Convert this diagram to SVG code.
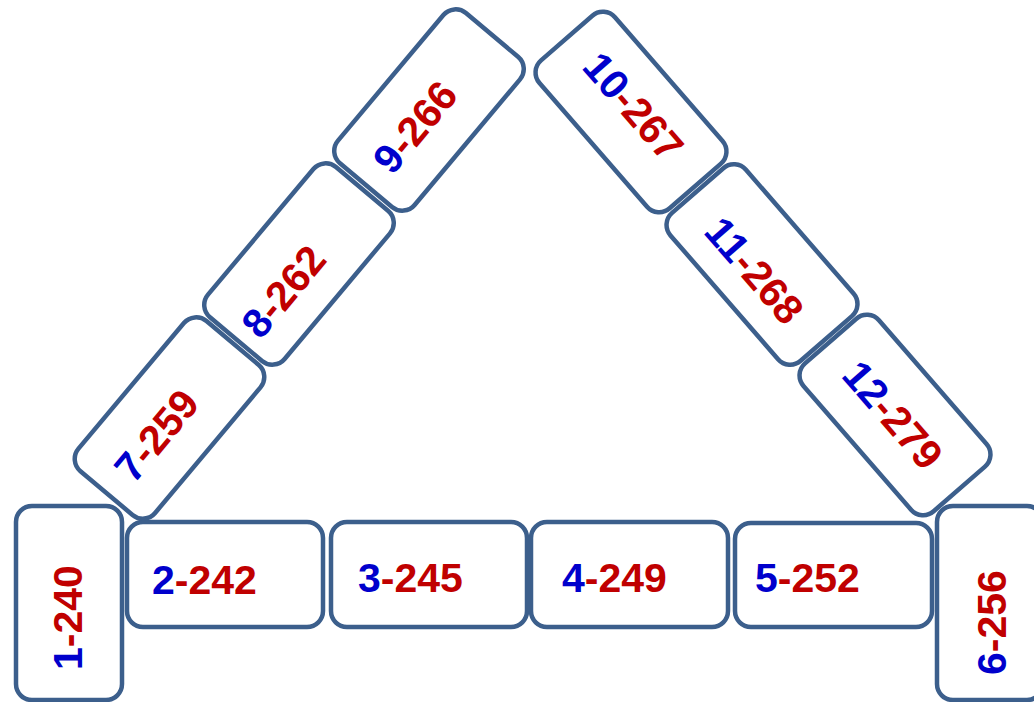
<svg xmlns="http://www.w3.org/2000/svg" width="1034" height="702" viewBox="0 0 1034 702">
<style>
.box{fill:#fff;stroke:#3c5f8c;stroke-width:4.5}
.t{font-family:"Liberation Sans",Arial,sans-serif;font-weight:bold;font-size:41px;fill:#c00000}
.b{fill:#0000cc}
</style>
<rect width="1034" height="702" fill="#fff"/>
<g id="node1"><rect class="box" x="16" y="506" width="106" height="194" rx="16"/><text class="t" transform="translate(82,670) rotate(-90)"><tspan class="b">1</tspan>-240</text></g>
<g id="node2"><rect class="box" x="127" y="522" width="196" height="105" rx="16"/><text class="t" x="152" y="594"><tspan class="b">2</tspan>-242</text></g>
<g id="node3"><rect class="box" x="331" y="522" width="196" height="105" rx="16"/><text class="t" x="358" y="592"><tspan class="b">3</tspan>-245</text></g>
<g id="node4"><rect class="box" x="531" y="522" width="197" height="105" rx="16"/><text class="t" x="562" y="592"><tspan class="b">4</tspan>-249</text></g>
<g id="node5"><rect class="box" x="735" y="523" width="197" height="104" rx="16"/><text class="t" x="755" y="592"><tspan class="b">5</tspan>-252</text></g>
<g id="node6"><rect class="box" x="937" y="506" width="106" height="194" rx="16"/><text class="t" transform="translate(1006,675) rotate(-90)"><tspan class="b">6</tspan>-256</text></g>
<g id="node7" transform="translate(169.5,418) rotate(-50)"><rect class="box" x="-98" y="-50" width="196" height="100" rx="16"/></g>
<text class="t" text-anchor="middle" transform="translate(156,435) rotate(-50)" y="15"><tspan class="b">7</tspan>-259</text>
<g id="node8" transform="translate(299,264) rotate(-50)"><rect class="box" x="-98" y="-50" width="196" height="100" rx="16"/></g>
<text class="t" text-anchor="middle" transform="translate(283,291) rotate(-50)" y="15"><tspan class="b">8</tspan>-262</text>
<g id="node9" transform="translate(429,110) rotate(-50)"><rect class="box" x="-98" y="-50" width="196" height="100" rx="16"/></g>
<text class="t" text-anchor="middle" transform="translate(414.5,126.5) rotate(-50)" y="15"><tspan class="b">9</tspan>-266</text>
<g id="node10" transform="translate(631,112) rotate(49)"><rect class="box" x="-98" y="-50" width="196" height="100" rx="16"/></g>
<text class="t" text-anchor="middle" transform="translate(634,106) rotate(49)" y="15"><tspan class="b">10</tspan>-267</text>
<g id="node11" transform="translate(762,264.5) rotate(49)"><rect class="box" x="-98" y="-50" width="196" height="100" rx="16"/></g>
<text class="t" text-anchor="middle" transform="translate(755,270) rotate(49)" y="15"><tspan class="b">11</tspan>-268</text>
<g id="node12" transform="translate(895,415) rotate(49)"><rect class="box" x="-98" y="-50" width="196" height="100" rx="16"/></g>
<text class="t" text-anchor="middle" transform="translate(893.5,414.5) rotate(49)" y="15"><tspan class="b">12</tspan>-279</text>
<g id="connectors"/>
</svg>
